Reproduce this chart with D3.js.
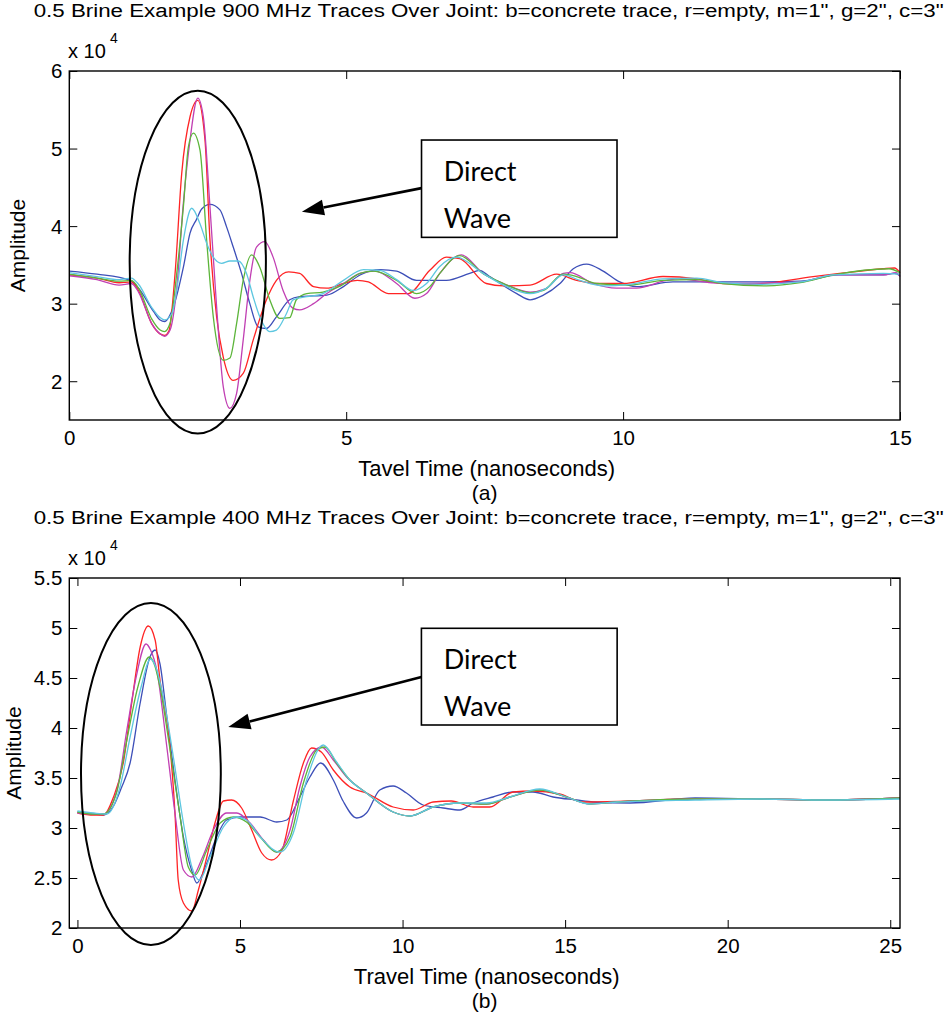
<!DOCTYPE html>
<html>
<head>
<meta charset="utf-8">
<script src="https://cdn.jsdelivr.net/npm/d3@7"></script>
<style>
  html, body { margin: 0; padding: 0; background: #fff; }
  svg { display: block; }
</style>
</head>
<body>
<svg id="chart" width="950" height="1019"></svg>
<script>
// --- traces, amplitude in units of 10^4, time in ns: [t, amplitude]
const topBlue = [[0,3.42],[0.5,3.38],[1.1,3.30],[1.25,3.2],[1.52,2.90],[1.64,2.79],[1.72,2.77],[1.88,2.96],[2.06,3.47],[2.18,3.91],[2.30,4.09],[2.39,4.22],[2.54,4.28],[2.72,4.21],[2.84,3.99],[2.96,3.73],[3.11,3.39],[3.26,3.0],[3.41,2.70],[3.56,2.68],[3.74,2.83],[3.98,3.05],[4.16,3.09],[4.65,3.11],[4.95,3.22],[5.25,3.37],[5.61,3.44],[5.91,3.42],[6.27,3.30],[6.81,3.30],[7.23,3.39],[7.41,3.43],[7.59,3.35],[8.08,3.13],[8.32,3.05],[8.56,3.11],[8.86,3.26],[9.1,3.45],[9.34,3.51],[9.64,3.42],[9.94,3.28],[10.24,3.22],[10.9,3.28],[12.3,3.28],[13.2,3.29],[13.9,3.37],[14.7,3.37],[14.9,3.39],[15,3.36]];
const topRed = [[0,3.37],[0.5,3.33],[0.9,3.27],[1.12,3.28],[1.25,3.17],[1.49,2.74],[1.64,2.61],[1.72,2.59],[1.80,2.65],[1.91,3.39],[2.03,4.68],[2.18,5.41],[2.32,5.62],[2.45,5.11],[2.54,3.82],[2.66,2.83],[2.78,2.31],[2.96,2.01],[3.14,2.10],[3.32,2.53],[3.56,3.05],[3.74,3.30],[3.96,3.41],[4.16,3.39],[4.41,3.22],[4.65,3.20],[4.95,3.26],[5.2,3.30],[5.4,3.28],[5.76,3.13],[6.12,3.13],[6.51,3.43],[6.81,3.60],[7.05,3.58],[7.53,3.26],[7.84,3.23],[8.32,3.24],[8.8,3.38],[9.16,3.30],[9.52,3.26],[10.0,3.26],[10.72,3.35],[11.33,3.32],[11.8,3.26],[12.3,3.25],[13.43,3.35],[13.91,3.39],[14.69,3.45],[14.9,3.46],[15,3.40]];
const topMagenta = [[0,3.36],[0.5,3.31],[0.9,3.24],[1.12,3.26],[1.25,3.15],[1.49,2.74],[1.64,2.61],[1.72,2.58],[1.82,2.66],[1.94,3.2],[2.06,4.3],[2.18,5.11],[2.32,5.65],[2.42,5.41],[2.54,4.25],[2.66,2.96],[2.78,1.93],[2.90,1.65],[3.02,1.84],[3.14,2.53],[3.26,3.30],[3.38,3.73],[3.53,3.80],[3.68,3.60],[3.86,3.17],[4.04,2.94],[4.16,2.92],[4.41,3.0],[4.65,3.13],[4.95,3.26],[5.25,3.39],[5.52,3.42],[5.91,3.26],[6.24,3.07],[6.45,3.13],[6.69,3.39],[7.08,3.63],[7.47,3.39],[7.84,3.26],[8.32,3.15],[8.6,3.19],[8.92,3.39],[9.04,3.40],[9.46,3.26],[9.88,3.20],[10.24,3.20],[10.78,3.30],[11.0,3.32],[11.6,3.27],[12.0,3.26],[13.2,3.28],[13.8,3.37],[14.7,3.37],[14.93,3.40],[15,3.35]];
const topGreen = [[0,3.38],[0.5,3.33],[0.9,3.29],[1.12,3.30],[1.25,3.2],[1.49,2.8],[1.64,2.66],[1.72,2.64],[1.82,2.75],[1.94,3.39],[2.06,4.25],[2.15,5.02],[2.24,5.20],[2.36,4.98],[2.48,3.82],[2.60,2.83],[2.78,2.27],[2.90,2.30],[3.02,2.74],[3.14,3.30],[3.29,3.63],[3.44,3.47],[3.62,3.05],[3.80,2.81],[3.98,2.82],[4.10,3.05],[4.29,3.13],[4.58,3.15],[4.9,3.23],[5.25,3.39],[5.5,3.42],[5.91,3.30],[6.27,3.13],[6.51,3.22],[6.69,3.39],[7.05,3.62],[7.47,3.39],[7.9,3.24],[8.32,3.14],[8.56,3.17],[8.92,3.38],[9.16,3.35],[9.52,3.26],[10.12,3.24],[10.72,3.30],[11.33,3.31],[11.8,3.26],[12.59,3.23],[13.2,3.27],[13.8,3.37],[14.8,3.45],[15,3.40]];
const topCyan = [[0,3.40],[0.5,3.35],[0.9,3.31],[1.12,3.33],[1.25,3.25],[1.49,2.95],[1.64,2.82],[1.72,2.79],[1.85,2.87],[1.94,3.17],[2.06,3.82],[2.21,4.23],[2.36,4.03],[2.48,3.78],[2.60,3.60],[2.75,3.52],[2.90,3.55],[3.05,3.55],[3.20,3.39],[3.32,3.09],[3.44,2.83],[3.62,2.64],[3.74,2.66],[3.92,2.87],[4.04,3.05],[4.29,3.09],[4.58,3.13],[4.95,3.30],[5.31,3.44],[5.61,3.43],[5.91,3.31],[6.21,3.17],[6.45,3.26],[6.69,3.48],[6.99,3.60],[7.47,3.39],[7.9,3.22],[8.32,3.13],[8.62,3.20],[8.92,3.37],[9.22,3.30],[9.64,3.23],[10.12,3.25],[10.72,3.32],[11.33,3.33],[11.8,3.27],[12.5,3.25],[13.2,3.28],[13.8,3.37],[14.7,3.39],[15,3.38]];

const botBlue = [[0,3.16],[0.5,3.14],[0.8,3.13],[1.11,3.22],[1.35,3.4],[1.62,3.65],[1.93,4.25],[2.23,4.71],[2.39,4.78],[2.54,4.64],[2.75,4.11],[3.0,3.48],[3.26,2.91],[3.52,2.57],[3.67,2.45],[3.98,2.65],[4.28,2.91],[4.59,3.08],[5.0,3.11],[5.62,3.11],[6.13,3.06],[6.44,3.08],[6.84,3.31],[7.15,3.51],[7.48,3.65],[7.87,3.48],[8.17,3.27],[8.59,3.10],[8.89,3.15],[9.30,3.38],[9.71,3.42],[10.12,3.35],[10.63,3.23],[11.25,3.20],[11.76,3.18],[12.17,3.25],[12.78,3.31],[13.4,3.36],[14.01,3.36],[14.63,3.31],[15.35,3.28],[15.86,3.26],[17.0,3.25],[19.0,3.30],[21,3.29],[23,3.28],[25.3,3.30]];
const botRed = [[0,3.15],[0.5,3.13],[0.8,3.13],[1.11,3.31],[1.41,3.65],[1.67,4.25],[1.93,4.81],[2.18,5.02],[2.39,4.88],[2.54,4.48],[2.85,3.81],[3.0,3.15],[3.10,2.48],[3.26,2.25],[3.52,2.17],[3.72,2.38],[3.98,2.71],[4.23,3.05],[4.49,3.27],[4.74,3.28],[5.05,3.20],[5.36,2.98],[5.67,2.75],[5.97,2.68],[6.28,2.77],[6.64,3.27],[6.95,3.65],[7.2,3.80],[7.5,3.76],[7.87,3.58],[8.38,3.41],[8.89,3.35],[9.71,3.21],[10.33,3.18],[10.94,3.26],[11.5,3.27],[12.17,3.21],[12.68,3.21],[13.4,3.36],[14.01,3.37],[14.83,3.34],[15.55,3.26],[17,3.27],[19,3.29],[21,3.29],[23,3.28],[25.3,3.30]];
const botMagenta = [[0,3.15],[0.5,3.14],[0.8,3.14],[1.21,3.37],[1.52,3.98],[1.8,4.5],[2.11,4.84],[2.25,4.78],[2.44,4.58],[2.75,3.81],[3.0,3.15],[3.26,2.58],[3.52,2.51],[3.85,2.71],[4.18,2.98],[4.59,3.15],[4.90,3.15],[5.31,3.05],[5.72,2.88],[6.13,2.76],[6.54,2.98],[6.84,3.41],[7.15,3.71],[7.51,3.81],[7.87,3.68],[8.28,3.51],[8.89,3.35],[9.71,3.16],[10.23,3.12],[10.94,3.21],[11.76,3.25],[12.58,3.24],[13.3,3.31],[14.22,3.38],[15.04,3.31],[15.75,3.24],[16.6,3.26],[19,3.29],[21,3.29],[23,3.28],[25.3,3.30]];
const botGreen = [[0,3.16],[0.5,3.14],[0.8,3.14],[1.2,3.35],[1.52,3.88],[1.85,4.4],[2.21,4.71],[2.35,4.65],[2.54,4.41],[2.85,3.78],[3.16,3.11],[3.41,2.61],[3.62,2.53],[3.98,2.78],[4.39,3.05],[4.8,3.11],[5.2,3.06],[5.62,2.91],[6.13,2.76],[6.54,2.91],[6.95,3.45],[7.36,3.78],[7.61,3.81],[7.97,3.65],[8.38,3.48],[8.89,3.35],[9.71,3.16],[10.23,3.12],[10.94,3.21],[11.76,3.25],[12.58,3.24],[13.3,3.31],[14.22,3.38],[15.04,3.31],[15.75,3.24],[16.6,3.26],[19,3.29],[21,3.29],[23,3.28],[25.3,3.30]];
const botCyan = [[0,3.17],[0.5,3.15],[0.9,3.14],[1.31,3.41],[1.62,3.91],[1.95,4.4],[2.25,4.69],[2.40,4.62],[2.64,4.31],[2.95,3.71],[3.26,3.05],[3.52,2.61],[3.75,2.48],[4.08,2.71],[4.49,3.01],[4.85,3.11],[5.2,3.08],[5.62,2.91],[6.23,2.76],[6.64,2.95],[7.05,3.48],[7.56,3.83],[7.97,3.66],[8.38,3.48],[8.89,3.35],[9.71,3.16],[10.23,3.12],[10.94,3.21],[11.76,3.25],[12.58,3.25],[13.3,3.31],[14.22,3.39],[15.04,3.31],[15.75,3.24],[16.6,3.26],[19,3.28],[21,3.29],[23,3.28],[25.3,3.29]];

const traceColors = ["#3d4fb8", "#ff2424", "#c13fb3", "#5cb53a", "#5ec7e0"];

const topXTicks = [0, 5, 10, 15];
const topYTicks = [2, 3, 4, 5, 6];
const botXTicks = [0, 5, 10, 15, 20, 25];
const botYTicks = [2, 2.5, 3, 3.5, 4, 4.5, 5, 5.5];

const topTitle = "0.5 Brine Example 900 MHz Traces Over Joint: b=concrete trace, r=empty, m=1\", g=2\", c=3\"";
const botTitle = "0.5 Brine Example 400 MHz Traces Over Joint: b=concrete trace, r=empty, m=1\", g=2\", c=3\"";

const svg = d3.select("#chart");
const FONT = "'Liberation Sans', Arial, Helvetica, sans-serif";

function drawPanel(p) {
  const x = d3.scaleLinear().domain(p.xDomain).range([69.3, 900]);
  const y = d3.scaleLinear().domain(p.yDomain).range([p.bottom, p.top]);
  const g = svg.append("g");

  const line = d3.line()
    .x(d => x(d[0]))
    .y(d => y(d[1]))
    .curve(d3.curveMonotoneX);

  g.selectAll("path.trace")
    .data(p.series)
    .enter().append("path")
    .attr("class", "trace")
    .attr("d", line)
    .attr("fill", "none")
    .attr("stroke", (d, i) => traceColors[i])
    .attr("stroke-width", 1.3);

  // axes, ticks pointing inward on all four sides
  const axB = g.append("g").attr("transform", `translate(0,${p.bottom})`)
    .call(d3.axisBottom(x).tickValues(p.xTicks).tickSize(-8).tickPadding(10).tickFormat(d3.format("d")));
  const axT = g.append("g").attr("transform", `translate(0,${p.top})`)
    .call(d3.axisTop(x).tickValues(p.xTicks).tickSize(-8).tickFormat(""));
  const axL = g.append("g").attr("transform", `translate(${x.range()[0]},0)`)
    .call(d3.axisLeft(y).tickValues(p.yTicks).tickSize(-8).tickPadding(7).tickFormat(d => String(d)));
  const axR = g.append("g").attr("transform", `translate(${x.range()[1]},0)`)
    .call(d3.axisRight(y).tickValues(p.yTicks).tickSize(-8).tickFormat(""));
  [axB, axT, axL, axR].forEach(a => {
    a.select(".domain").remove();
    a.selectAll("line").attr("stroke", "#000").attr("stroke-width", 1);
    a.selectAll("text").attr("font-family", FONT).attr("font-size", 20.5).attr("fill", "#000");
  });
  axL.selectAll("text").attr("dy", "0.34em");

  g.append("rect")
    .attr("x", x.range()[0]).attr("y", p.top)
    .attr("width", x.range()[1] - x.range()[0]).attr("height", p.bottom - p.top)
    .attr("fill", "none").attr("stroke", "#000").attr("stroke-width", 1.4);

  // texts
  const mid = (x.range()[0] + x.range()[1]) / 2;
  g.append("text").attr("x", mid + 4).attr("y", p.top - 54)
    .attr("text-anchor", "middle").attr("font-family", "'Liberation Sans Narrow', " + FONT)
    .attr("font-size", 18).attr("textLength", 910).attr("lengthAdjust", "spacingAndGlyphs")
    .text(p.title);
  g.append("text").attr("x", 68).attr("y", p.top - 13)
    .attr("font-family", FONT).attr("font-size", 20).text("x 10");
  g.append("text").attr("x", 110).attr("y", p.top - 28)
    .attr("font-family", FONT).attr("font-size", 14).text("4");
  g.append("text").attr("transform", `translate(${p.ylabelX},${(p.top + p.bottom) / 2}) rotate(-90)`)
    .attr("text-anchor", "middle").attr("font-family", FONT).attr("font-size", 21).text("Amplitude");
  g.append("text").attr("x", mid + 2).attr("y", p.bottom + 56)
    .attr("text-anchor", "middle").attr("font-family", FONT).attr("font-size", 22).text(p.xlabel);
  g.append("text").attr("x", mid).attr("y", p.bottom + 80)
    .attr("text-anchor", "middle").attr("font-family", FONT).attr("font-size", 21).text(p.tag);

  // annotation: ellipse, arrow and text box (positioned in data units)
  const a = p.note;
  g.append("ellipse")
    .attr("cx", x(a.cx)).attr("cy", y(a.cy))
    .attr("rx", x(a.cx + a.rx) - x(a.cx)).attr("ry", y(a.cy) - y(a.cy + a.ry))
    .attr("fill", "none").attr("stroke", "#000").attr("stroke-width", 2);

  const x0 = x(a.arrow[0][0]), y0 = y(a.arrow[0][1]);
  const x1 = x(a.arrow[1][0]), y1 = y(a.arrow[1][1]);
  const ang = Math.atan2(y1 - y0, x1 - x0);
  const hl = 22, hw = 8;
  const bx = x1 - hl * Math.cos(ang), by = y1 - hl * Math.sin(ang);
  g.append("line").attr("x1", x0).attr("y1", y0).attr("x2", bx).attr("y2", by)
    .attr("stroke", "#000").attr("stroke-width", 2.6);
  g.append("path")
    .attr("d", `M${x1},${y1}L${bx + hw * Math.sin(ang)},${by - hw * Math.cos(ang)}L${bx - hw * Math.sin(ang)},${by + hw * Math.cos(ang)}Z`)
    .attr("fill", "#000");

  g.append("rect")
    .attr("x", x(a.box[0])).attr("y", y(a.box[3]))
    .attr("width", x(a.box[1]) - x(a.box[0])).attr("height", y(a.box[2]) - y(a.box[3]))
    .attr("fill", "#fff").attr("stroke", "#000").attr("stroke-width", 1.6);
  a.lines.forEach(l => {
    g.append("text").attr("x", x(a.textX)).attr("y", y(l[1]))
      .attr("font-family", "Lato, 'Open Sans', sans-serif").attr("font-size", 27).text(l[0]);
  });
}

drawPanel({
  xDomain: [0, 15], yDomain: [1.5, 6], top: 71, bottom: 420,
  xTicks: topXTicks, yTicks: topYTicks,
  series: [topBlue, topRed, topMagenta, topGreen, topCyan],
  title: topTitle, xlabel: "Tavel Time (nanoseconds)", tag: "(a)", ylabelX: 25,
  note: {
    cx: 2.32, cy: 3.535, rx: 1.23, ry: 2.21,
    arrow: [[6.36, 4.49], [4.2, 4.185]],
    box: [6.36, 9.89, 3.855, 5.11],
    textX: 6.76, lines: [["Direct", 4.58], ["Wave", 3.97]]
  }
});

drawPanel({
  xDomain: [-0.25, 25.3], yDomain: [2, 5.5], top: 578, bottom: 928,
  xTicks: botXTicks, yTicks: botYTicks,
  series: [botBlue, botRed, botMagenta, botGreen, botCyan],
  title: botTitle, xlabel: "Travel Time (nanoseconds)", tag: "(b)", ylabelX: 21,
  note: {
    cx: 2.26, cy: 3.54, rx: 2.15, ry: 1.71,
    arrow: [[10.58, 4.51], [4.64, 4.01]],
    box: [10.58, 16.6, 4.03, 4.997],
    textX: 11.27, lines: [["Direct", 4.59], ["Wave", 4.12]]
  }
});
</script>
</body>
</html>
